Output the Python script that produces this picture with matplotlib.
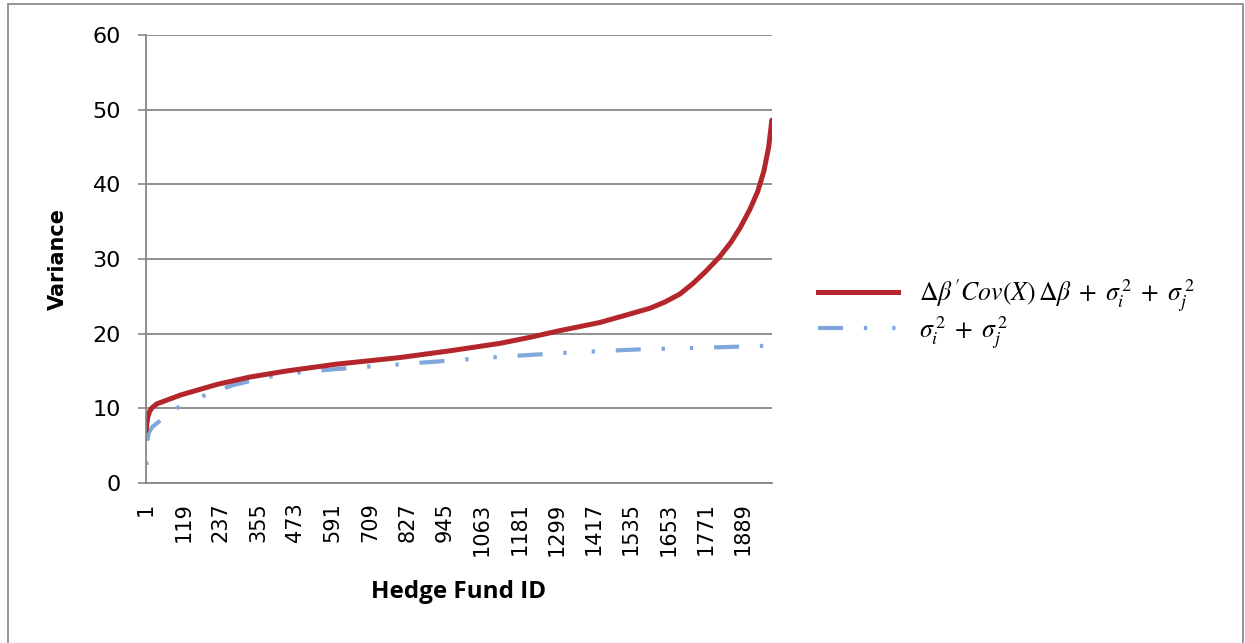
import matplotlib.pyplot as plt
from matplotlib.lines import Line2D
from matplotlib.patches import Rectangle

# number of funds on the category axis
n_funds = 1980

# sorted combined variance, read at selected fund IDs
red_ids = [1, 3, 6, 12, 20, 35, 60, 111, 225, 330, 445, 600, 803, 961, 1120,
           1214, 1309, 1436, 1520, 1594, 1640, 1689, 1730, 1770, 1815, 1850,
           1880, 1910, 1935, 1955, 1970, 1980]
red_vals = [7.0, 7.9, 8.8, 9.6, 10.1, 10.6, 11.0, 11.8, 13.2, 14.2, 15.0, 15.9,
            16.8, 17.7, 18.7, 19.5, 20.4, 21.5, 22.5, 23.4, 24.2, 25.3, 26.7,
            28.3, 30.3, 32.2, 34.2, 36.6, 39.0, 41.8, 45.0, 48.6]

# idiosyncratic variance only
blue_ids = [1, 2, 3, 5, 10, 20, 38, 82, 171, 275, 383, 500, 645, 867, 1120,
            1309, 1562, 1752, 1980]
blue_vals = [0.3, 3.0, 4.8, 5.8, 6.8, 7.5, 8.1, 9.7, 11.5, 13.1, 14.2, 14.9,
             15.4, 16.1, 16.9, 17.4, 17.9, 18.1, 18.4]

xtick_ids = list(range(1, 1890, 118))
yticks = [0, 10, 20, 30, 40, 50, 60]

red_label = (r"$\Delta\beta\,'Cov(X)\,\Delta\beta\;+\;"
             r"\sigma_i^{\,2}\;+\;\sigma_j^{\,2}$")
blue_label = r"$\sigma_i^{\,2}\;+\;\sigma_j^{\,2}$"

plt.rcParams['mathtext.fontset'] = 'stix'

red = '#B3262B'
blue = '#7FA7DA'
grey = '#878787'
dash_dot_dot = (0, (6, 5, 0.8, 6, 0.8, 5))

fig = plt.figure(figsize=(12.45, 6.43), dpi=100)
ax = fig.add_axes([146/1245, 1-483/643, (772-146)/1245, (483-35)/643])

ax.plot(blue_ids, blue_vals, color=blue, lw=3, dash_capstyle='butt',
        ls=(14, dash_dot_dot[1]))
ax.plot(red_ids, red_vals, color=red, lw=3.6, solid_capstyle='round')

ax.set_xlim(0.5, n_funds + 0.5)
ax.set_ylim(0, 60)
ax.set_yticks(yticks)
ax.set_xticks(xtick_ids)
ax.set_xticklabels([str(i) for i in xtick_ids], rotation=90, fontsize=15)
ax.tick_params(axis='x', length=0, pad=14)
ax.tick_params(axis='y', length=6, width=1.2, color=grey, pad=12, labelsize=16)
ax.grid(axis='y', color=grey, lw=1.3)
ax.set_axisbelow(True)
for side in ['top', 'right']:
    ax.spines[side].set_visible(False)
for side in ['left', 'bottom']:
    ax.spines[side].set_color(grey)
    ax.spines[side].set_linewidth(1.3)

ax.set_ylabel('Variance', fontsize=15, fontweight='bold')
ax.yaxis.set_label_coords((68-146)/626, 0.5)
ax.set_xlabel('Hedge Fund ID', fontsize=17.5, fontweight='bold',
              family='Open Sans', va='center')
ax.xaxis.set_label_coords(0.5, (483-592)/448)

handles = [Line2D([], [], color=red, lw=3.6),
           Line2D([], [], color=blue, lw=3, dash_capstyle='butt',
                  ls=dash_dot_dot)]
fig.legend(handles, [red_label, blue_label], loc='center left',
           bbox_to_anchor=(818/1245, 1-314/643), frameon=False,
           fontsize=18.5, handlelength=3.1, handletextpad=0.85,
           borderpad=0, borderaxespad=0, labelspacing=0.0)

# outer chart border
fig.patches.append(Rectangle((8/1245, -0.02), (1243-8)/1245, 1.02-4/643,
                             transform=fig.transFigure, fill=False,
                             edgecolor='#8C8C8C', lw=1.3))

fig.savefig('out.png', dpi=100)
